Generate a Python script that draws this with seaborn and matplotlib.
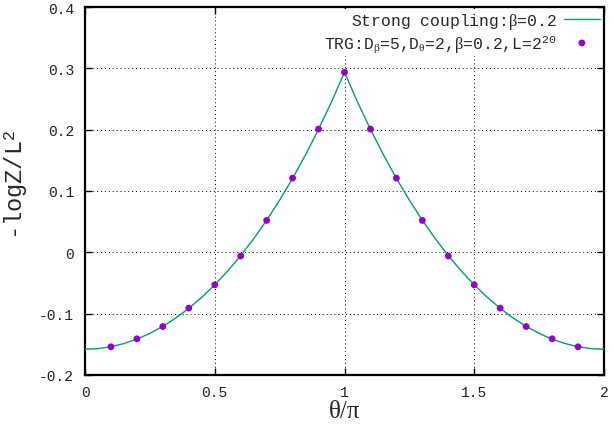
import numpy as np
import pandas as pd
import matplotlib
matplotlib.use("Agg")
import matplotlib.pyplot as plt
import seaborn as sns

# ---- data ----
theta_line = [0.00, 0.05, 0.10, 0.15, 0.20, 0.25, 0.30, 0.35, 0.40, 0.45,
              0.50, 0.55, 0.60, 0.65, 0.70, 0.75, 0.80, 0.85, 0.90, 0.95,
              1.00, 1.05, 1.10, 1.15, 1.20, 1.25, 1.30, 1.35, 1.40, 1.45,
              1.50, 1.55, 1.60, 1.65, 1.70, 1.75, 1.80, 1.85, 1.90, 1.95, 2.00]
f_line = [-0.158, -0.157, -0.154, -0.1487, -0.1415, -0.1322, -0.1207, -0.1071, -0.0913, -0.0733,
          -0.053, -0.0304, -0.0053, 0.0222, 0.0523, 0.0851, 0.1206, 0.1591, 0.2006, 0.2454,
          0.2935, 0.2454, 0.2006, 0.1591, 0.1206, 0.0851, 0.0523, 0.0222, -0.0053, -0.0304,
          -0.053, -0.0733, -0.0913, -0.1071, -0.1207, -0.1322, -0.1415, -0.1487, -0.154, -0.157, -0.158]

theta_trg = [0.1, 0.2, 0.3, 0.4, 0.5, 0.6, 0.7, 0.8, 0.9, 1.0,
             1.1, 1.2, 1.3, 1.4, 1.5, 1.6, 1.7, 1.8, 1.9]
f_trg = [-0.154, -0.141, -0.121, -0.091, -0.053, -0.006, 0.052, 0.121, 0.201, 0.2935,
         0.201, 0.121, 0.052, -0.006, -0.053, -0.091, -0.121, -0.141, -0.154]

xticks = [0, 0.5, 1, 1.5, 2]
xticklabels = ["0", "0.5", "1", "1.5", "2"]
yticks = [-0.2, -0.1, 0, 0.1, 0.2, 0.3, 0.4]
yticklabels = ["-0.2", "-0.1", "0", "0.1", "0.2", "0.3", "0.4"]

label_line = r"Strong coupling:$\beta$=0.2"
label_trg = r"TRG:D$_{\beta}$=5,D$_{\theta}$=2,$\beta$=0.2,L=2$^{20}$"

df_line = pd.DataFrame({"theta": theta_line, "f": f_line})
df_trg = pd.DataFrame({"theta": theta_trg, "f": f_trg})

sns.set_style("ticks")
plt.rcParams["font.family"] = ["Liberation Mono", "DejaVu Sans"]
plt.rcParams["mathtext.fontset"] = "custom"
plt.rcParams["mathtext.rm"] = "Liberation Mono"
plt.rcParams["mathtext.it"] = "Liberation Serif"
plt.rcParams["mathtext.bf"] = "Liberation Mono:bold"

fig = plt.figure(figsize=(6.13, 4.31), dpi=100)
fig.subplots_adjust(left=85/613, right=604/613, bottom=1-376/431, top=1-8/431)
ax = fig.add_subplot(111)

sns.lineplot(data=df_line, x="theta", y="f", ax=ax, color="#009e73", lw=1.0,
             label=label_line, sort=False, zorder=3)
sns.scatterplot(data=df_trg, x="theta", y="f", ax=ax, color="#9400d3", s=24,
                edgecolor="none", label=label_trg, zorder=4)

ax.set_xlim(0, 2)
ax.set_ylim(-0.2, 0.4)
ax.set_xticks(xticks)
ax.set_xticklabels(xticklabels)
ax.set_yticks(yticks)
ax.set_yticklabels(yticklabels)

ax.grid(True, color="black", linestyle=(0, (1, 3)), linewidth=0.7)
ax.set_axisbelow(True)

for s in ax.spines.values():
    s.set_visible(True)
    s.set_linewidth(1.6)
    s.set_color("black")

ax.tick_params(direction="in", length=5, width=1.0, top=True, right=True,
               labelsize=10.5, colors="black")
ax.tick_params(axis="x", pad=7)
ax.tick_params(axis="y", pad=8)
for t in ax.get_xticklabels() + ax.get_yticklabels():
    t.set_color("#222222")

ax.set_xlabel("θ/π", family="Liberation Serif", fontsize=18)
ax.set_ylabel(r"-logZ/L$^2$", fontsize=17)
ax.xaxis.set_label_coords(0.5, -0.068)
ax.yaxis.set_label_coords(-0.106, 0.52)

leg = ax.legend(loc="upper right", markerfirst=False, frameon=True,
                facecolor="white", edgecolor="none", framealpha=1, fancybox=False,
                borderaxespad=0.1, borderpad=0.15, handlelength=2.2,
                handletextpad=0.45, labelspacing=0.1,
                prop={"family": "Liberation Mono", "size": 11.8})
for col in leg._legend_handle_box.get_children():
    col.align = "right"

fig.savefig("out.png", dpi=100)
